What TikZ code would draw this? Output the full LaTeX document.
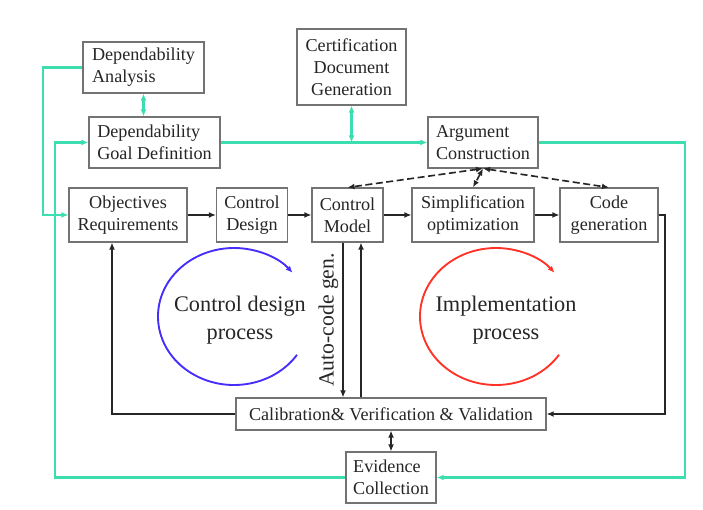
\documentclass[tikz,border=0pt]{standalone}
\usepackage{fontspec}
\setmainfont{Liberation Serif}
\newfontfamily\diafont{Liberation Serif}
\usetikzlibrary{arrows.meta,calc}
\definecolor{turq}{RGB}{60,222,175}
\definecolor{cycblue}{RGB}{70,45,250}
\definecolor{cycred}{RGB}{255,50,40}

\begin{document}
\begin{tikzpicture}[>={Latex[length=6pt,width=5pt]},x=0.03cm,y=0.03cm,
  box/.style={draw=black!55,line width=0.9pt,fill=white,inner sep=2pt,text=black!85,
    font=\diafont\fontsize{15.5}{19}\selectfont},
  gconn/.style={turq,line width=2pt},
  bconn/.style={black!85,line width=1.4pt},
  dconn/.style={black!85,line width=1.4pt,dash pattern=on 6pt off 3pt},
  cyc/.style={line width=1.6pt,->},
  lbl/.style={align=center,text=black!85,font=\diafont\fontsize{19}{24}\selectfont}]
  \useasboundingbox (0,0) rectangle (703,510);

  % dependability boxes
  \node[box,align=left,minimum width=3.63cm,minimum height=1.53cm] (DA) at (143.5,442.5) {Dependability\\Analysis};
  \node[box,align=left,minimum width=3.93cm,minimum height=1.53cm] (DG) at (154.5,367.5) {Dependability\\Goal Definition};
  \node[box,align=center,minimum width=3.27cm,minimum height=2.28cm] (CD) at (351.5,443) {Certification\\Document\\Generation};
  \node[box,align=left,minimum width=3.3cm,minimum height=1.53cm] (AC) at (483,367.5) {Argument\\Construction};

  % process row
  \node[box,align=center,minimum width=3.54cm,minimum height=1.62cm] (OR) at (128,295) {Objectives\\Requirements};
  \node[box,align=center,minimum width=2.13cm,minimum height=1.62cm] (CDe) at (252,295) {Control\\Design};
  \node[box,align=center,minimum width=2.13cm,minimum height=1.62cm] (CM) at (347.5,295) {Control\\Model};
  \node[box,align=center,minimum width=3.66cm,minimum height=1.62cm] (SO) at (473,295) {Simplification\\optimization};
  \node[box,align=center,minimum width=2.94cm,minimum height=1.62cm] (CG) at (609,295) {Code\\generation};

  \node[box,minimum width=9.3cm,minimum height=0.96cm] (CV) at (391,96) {Calibration\& Verification \& Validation};
  \node[box,align=left,minimum width=2.7cm,minimum height=1.53cm] (EC) at (391,32.5) {Evidence\\Collection};

  % bends
  \coordinate (gl) at (43,0);
  \coordinate (gm) at (55,0);
  \coordinate (gr) at (685,0);
  \coordinate (br) at (665,0);
  \coordinate (bl) at (112,0);
  \coordinate (ad) at (343,0);
  \coordinate (au) at (361,0);

  % green links
  \draw[gconn,->] (DA.west) -- (DA.west -| gl) |- (OR.west);
  \draw[gconn,->] (EC.west) -- (EC.west -| gm) |- (DG.west);
  \draw[gconn,->] (AC.east) -- (AC.east -| gr) |- (EC.east);
  \draw[gconn,->] (DG.east) -- (AC.west);
  \draw[gconn,<->] (DA.south) -- (DA.south |- DG.north);
  \draw[gconn,<->] (CD.south) -- (CD.south |- DG.east);

  % black links
  \draw[bconn,->] (OR) -- (CDe);
  \draw[bconn,->] (CDe) -- (CM);
  \draw[bconn,->] (CM) -- (SO);
  \draw[bconn,->] (SO) -- (CG);
  \draw[bconn,->] (CG.east) -- (CG.east -| br) |- (CV.east);
  \draw[bconn,->] (CV.west) -| (bl |- OR.south);
  \draw[bconn,->] (CM.south -| ad) -- (CV.north -| ad)
    node[midway,above,rotate=90,text=black!85,font=\diafont\fontsize{18.5}{20}\selectfont] {Auto-code gen.};
  \draw[bconn,->] (CV.north -| au) -- (CM.south -| au);
  \draw[bconn,<->] (CV.south) -- (EC.north);

  % argument links
  \draw[dconn,<->] (AC.south) -- (CM.north);
  \draw[dconn,<->] (AC.south) -- (SO.north);
  \draw[dconn,<->] (AC.south) -- (CG.north);

  % cycles
  \coordinate (cb) at (234,193.5);
  \coordinate (cr) at (496,193.5);
  \draw[cyc,cycblue] (cb) ++(-34:2.28cm and 2.055cm) arc[start angle=-34,end angle=-320.5,x radius=2.28cm,y radius=2.055cm];
  \draw[cyc,cycred] (cr) ++(-34:2.28cm and 2.055cm) arc[start angle=-34,end angle=-320.5,x radius=2.28cm,y radius=2.055cm];
  \node[lbl] (cdp) at (240,190) {Control design\\process};
  \node[lbl] (ip) at (506,190) {Implementation\\process};
\end{tikzpicture}
\end{document}
